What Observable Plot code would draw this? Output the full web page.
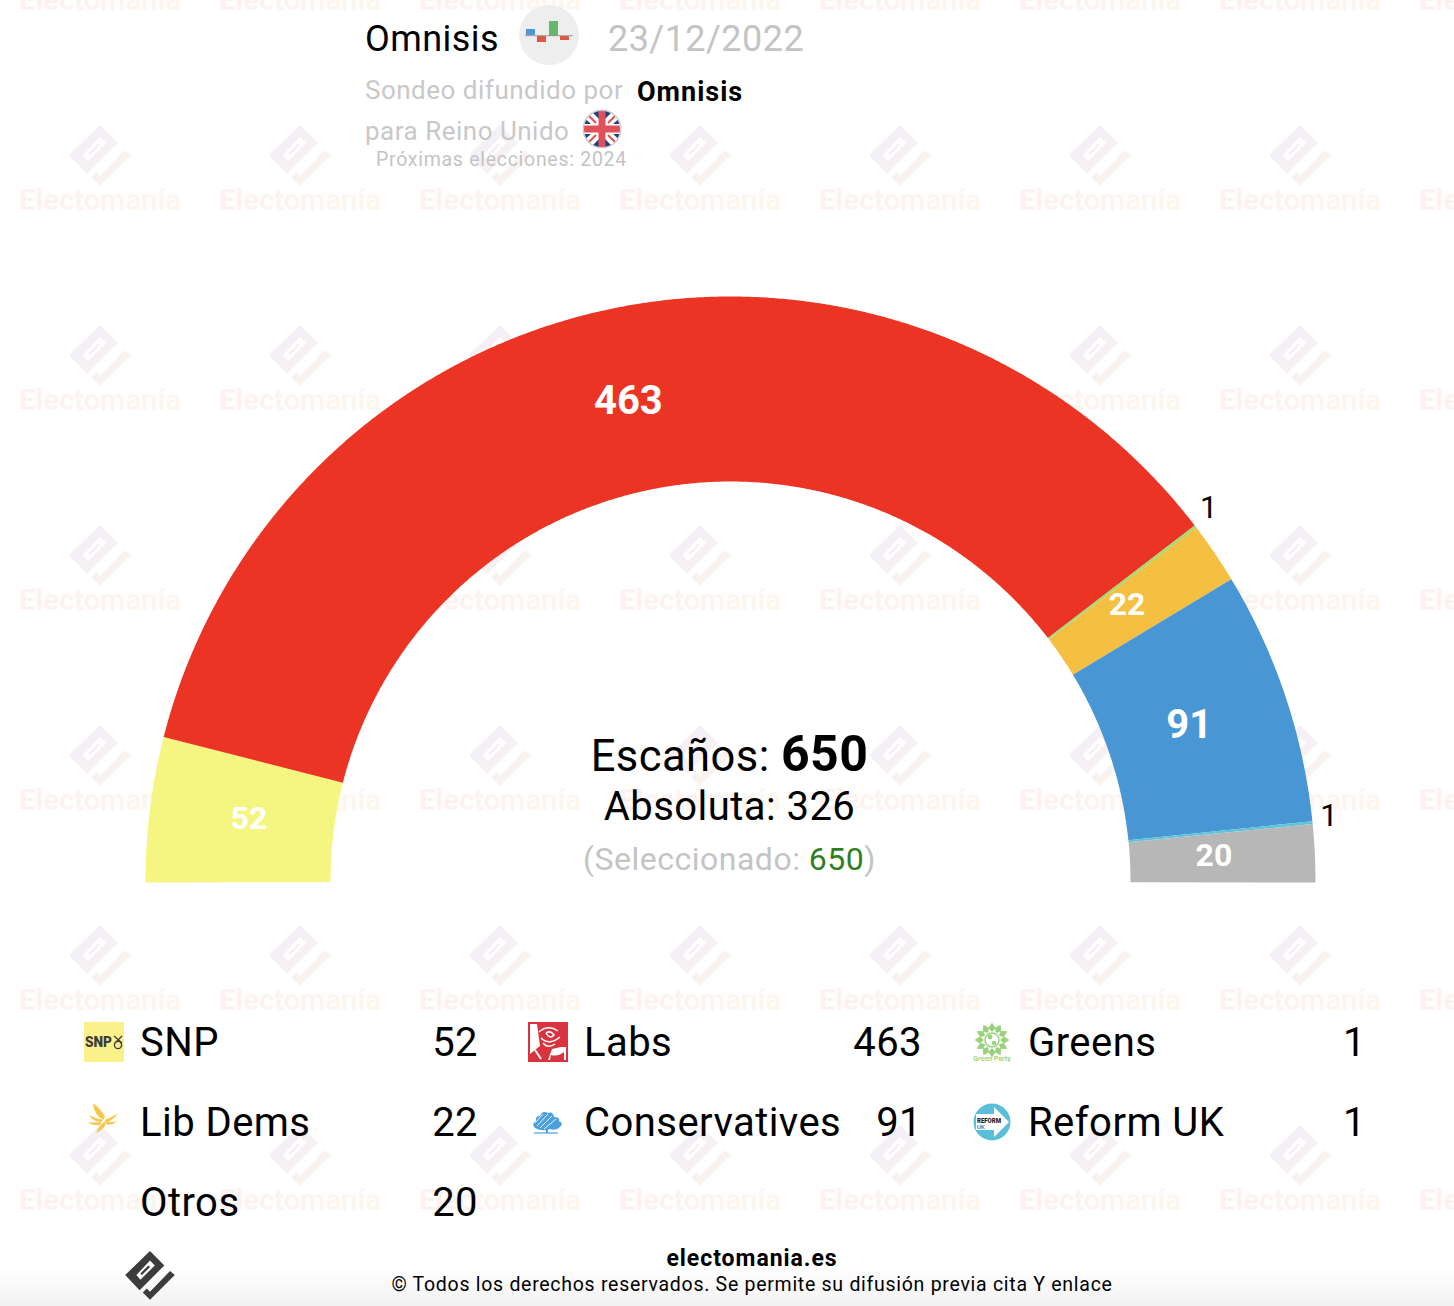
<!DOCTYPE html>
<html lang="es">
<head>
<meta charset="utf-8">
<title>Omnisis 23/12/2022</title>
<script src="https://cdn.jsdelivr.net/npm/d3@7"></script>
<script src="https://cdn.jsdelivr.net/npm/@observablehq/plot@0.6"></script>
<style>
html,body{margin:0;padding:0;background:#fff}
body{position:relative;width:1454px;height:1306px;overflow:hidden;font-family:Roboto,sans-serif;color:#000}
.abs{position:absolute;white-space:nowrap;line-height:1}
#wm,#foot,#chart,#icons{position:absolute;left:0}
#wm{top:0}
#icons{top:0;width:1454px;height:1306px}
#chart{top:270px}
#chart svg{display:block;background:transparent;overflow:visible}
#foot{top:1266px;width:1454px;height:40px;background:linear-gradient(#ffffff00,#f2f2f2)}
.c{left:0;width:1459px;text-align:center}
.ls{letter-spacing:.45px}
</style>
</head>
<body>
<div id="foot"></div>
<div id="wm"></div>
<div id="chart"></div>
<div id="icons"></div>
<script>
// ---- data ----
const parties = ["SNP", "Labs", "Greens", "Lib Dems", "Conservatives", "Reform UK", "Otros"];
const seats   = [52, 463, 1, 22, 91, 1, 20];
const colors  = ["#f5f681", "#ec3424", "#9fdc6f", "#f5bf41", "#4896d3", "#5cc4dc", "#b7b7b7"];
const totalSeats = 650;
const majority = 326;
const selected = 650;
const legendOrder = ["SNP", "Labs", "Greens", "Lib Dems", "Conservatives", "Reform UK", "Otros"];

// ---- label styling (not data) ----
const labelSize  = [32, 40, 31, 32, 40, 31, 32];
const labelColor = ["#fff", "#fff", "#000", "#fff", "#fff", "#000", "#fff"];
const labelRadius = [492.5, 492.5, 605, 492.5, 492.5, 602, 492.5];
const labelNudge = [[7, -1], [-4, 2], [-3.5, -7], [-11.5, -1], [-8.5, -1], [-0.5, -6], [-8.5, -2]];

// ---- geometry scale: one unit of x/y is one pixel from the arc centre ----
const W = 1454, H = 640, cx = 730, baseline = 611, rOuter = 585, rInner = 400;
const tilt = 0.00175; // the reference's half-circle sits very slightly rotated

const cum = d3.cumsum(seats);
const pts = [];
parties.forEach((p, i) => {
  const a0 = ((cum[i] - seats[i]) / totalSeats) * Math.PI - tilt;
  const a1 = (cum[i] / totalSeats) * Math.PI - tilt + (i === parties.length - 1 ? 2 * tilt : 0);
  const n = Math.max(2, Math.ceil((a1 - a0) / 0.004));
  const at = (a, r) => ({party: p, x: -r * Math.cos(a), y: r * Math.sin(a)});
  for (let k = 0; k <= n; ++k) pts.push(at(a0 + (a1 - a0) * k / n, rOuter));
  for (let k = n; k >= 0; --k) pts.push(at(a0 + (a1 - a0) * k / n, rInner));
});
const labels = parties.map((p, i) => {
  const a = ((cum[i] - seats[i] / 2) / totalSeats) * Math.PI;
  return {
    party: p, seats: seats[i],
    x: -labelRadius[i] * Math.cos(a) + labelNudge[i][0],
    y: labelRadius[i] * Math.sin(a) - labelNudge[i][1],
    size: labelSize[i], color: labelColor[i],
    weight: labelColor[i] === "#000" ? 400 : 700
  };
});

const textMark = (w) => Plot.text(labels.filter(d => d.weight === w), {
  x: "x", y: "y", text: d => String(d.seats),
  fontSize: "size", fill: d => d.color, fontWeight: w,
  fontFamily: "Roboto", textAnchor: "middle", lineAnchor: "middle"
});

const chart = Plot.plot({
  width: W, height: H, margin: 0,
  style: {background: "transparent", fontFamily: "Roboto"},
  x: {domain: [-cx, W - cx], range: [0, W], axis: null},
  y: {domain: [baseline - H, baseline], range: [H, 0], axis: null},
  color: {domain: parties, range: colors},
  marks: [
    Plot.line(pts, {x: "x", y: "y", z: "party", fill: "party", stroke: null, curve: "linear-closed"}),
    textMark(700), textMark(400)
  ]
});
document.getElementById("chart").append(chart);

// ---- watermark and logo shape ----
const logoPath = "M0,-30L18,-12L-13,19L-31,0Z M0,-18L-17,0L-12,6L6,-12Z M-2,-12L-12,-2L-10,0L0,-10Z M25,-5L31,0L0,31L-9,22L-4,17L0,21Z";
let wm = `<svg width="1454" height="1306" xmlns="http://www.w3.org/2000/svg">
<defs>
<linearGradient id="gl" x1="0" y1="0" x2="1" y2="1"><stop offset="0.2" stop-color="#f3eff9"/><stop offset="0.85" stop-color="#fbf3ed"/></linearGradient>
<linearGradient id="gt" x1="0" y1="0" x2="1" y2="0"><stop offset="0" stop-color="#fdf1f1"/><stop offset="1" stop-color="#fdf7ee"/></linearGradient>
</defs>`;
for (let ty = 0; ty <= 1200; ty += 200) for (let tx = 100; tx <= 1500; tx += 200) {
  wm += `<path transform="translate(${tx},${ty - 45})" d="${logoPath}" fill="url(#gl)" fill-rule="evenodd"/>`;
  wm += `<text x="${tx}" y="${ty + 10}" text-anchor="middle" font-family="Roboto" font-weight="700" font-size="29.2" fill="url(#gt)">Electomanía</text>`;
}
wm += `</svg>`;
document.getElementById("wm").innerHTML = wm;

// ---- small icons ----
function leaves(cx, cy) {
  let s = "";
  for (let i = 0; i < 12; i++) s += `<path transform="translate(${cx},${cy}) rotate(${i * 30})" d="M0,-17.5L3.5,-12L0,-8L-3.5,-12Z" fill="#9ad27c"/>`;
  return s;
}
const iconSvg = {
  "SNP": `<rect width="40" height="40" fill="#fbf18b"/><text x="1" y="25" font-family="Roboto" font-weight="900" font-size="15" fill="#3c3c3c" textLength="27" lengthAdjust="spacingAndGlyphs">SNP</text><circle cx="34" cy="23" r="3.6" fill="none" stroke="#3c3c3c" stroke-width="1.4"/><path d="M30,14L38,21M38,14L31,21" stroke="#3c3c3c" stroke-width="1.3"/>`,
  "Labs": `<rect width="40" height="40" fill="#d8333f"/><rect x="2" y="2" width="36" height="36" fill="#fff"/><path d="M9,2H38V25H33L24,27L20,38H2V32L12,24Z" fill="#d8333f"/><circle cx="23" cy="14" r="11" fill="#d8333f"/><path d="M11,10Q20,2 30,9M13,16Q21,24 32,15M18,11Q23,8 26,13Q22,18 18,11M15,21Q20,27 27,22M8,5Q5,9 8,13" fill="none" stroke="#fff" stroke-width="1.5"/><path d="M7,28L13,37" fill="none" stroke="#fff" stroke-width="2"/><path d="M23,33Q30,35 36,30L36,38H22Z" fill="#d8333f"/>`,
  "Greens": `${leaves(20, 18)}<circle cx="20" cy="18" r="7" fill="#fff" stroke="#9ad27c" stroke-width="1.5"/><circle cx="18" cy="15" r="2.4" fill="#9ad27c"/><circle cx="22" cy="21" r="2.2" fill="#9ad27c"/><text x="20" y="38.5" text-anchor="middle" font-family="Roboto" font-weight="700" font-size="7" fill="#a3d688">Green Party</text>`,
  "Lib Dems": `<g fill="#f8c64a"><path d="M9,1Q18,8 21,15L19,18Q10,13 9,1Z"/><path d="M5,13Q12,17 19,18L17,20Q9,20 5,13Z"/><path d="M4,20Q12,21 18,20L16,23Q9,24 4,20Z"/><path d="M34,11Q29,19 20,21L22,17Q27,16 34,11Z"/><path d="M20,20Q14,25 12,31Q19,28 22,22Z"/><path d="M23,19Q27,21 33,19Q28,24 22,22Z"/></g>`,
  "Conservatives": `<path d="M7,26Q3,22 8,19Q7,14 12,14Q14,8 20,11Q25,9 26,15Q32,15 31,19Q36,21 32,25Q28,29 22,27Q14,30 7,26Z" fill="#4a9fe0"/><path d="M9,24L20,12M12,26L24,14M16,27L28,17M7,21L15,12" stroke="#fff" stroke-width=".9"/><path d="M6,31H30" stroke="#4a9fe0" stroke-width="1.2"/><path d="M19,26V31" stroke="#4a9fe0" stroke-width="2"/>`,
  "Reform UK": `<circle cx="20" cy="20" r="18.5" fill="#59bfd8"/><path d="M4,12H22V5L37,20L22,35V28H4Z" fill="#fff"/><text x="5" y="20.5" font-family="Roboto" font-weight="900" font-size="7" fill="#222" textLength="24" lengthAdjust="spacingAndGlyphs">REFORM</text><text x="5" y="26.5" font-family="Roboto" font-size="6" fill="#222">UK</text>`,
  "Otros": ""
};
const flag = `<svg class="abs" style="left:582px;top:109px" width="40" height="40" viewBox="0 0 40 40"><defs><clipPath id="fc"><circle cx="20" cy="20" r="18"/></clipPath></defs><circle cx="20" cy="20" r="19.5" fill="#ccc"/><g clip-path="url(#fc)"><rect width="40" height="40" fill="#fff"/><path d="M7,0L17,10V0ZM33,0L23,10V0ZM0,7L9,15H0ZM40,7V15H31ZM7,40L17,30V40ZM33,40L23,30V40ZM0,33V25H9ZM40,33V25H31Z" fill="#22407f"/><path d="M3,3L14,14M37,3L26,14M3,37L14,26M37,37L26,26" stroke="#e05058" stroke-width="2"/><rect x="16.5" width="7" height="40" fill="#e05058"/><rect y="16.5" width="40" height="7" fill="#e05058"/></g></svg>`;
const pollIcon = `<svg class="abs" style="left:519px;top:5px" width="60" height="60" viewBox="0 0 60 60"><circle cx="30" cy="30" r="30" fill="#efeeef"/><rect x="7" y="24" width="9" height="6" fill="#4d97d6"/><rect x="18" y="31" width="9" height="6" fill="#e2563f"/><rect x="30" y="16" width="9" height="15" fill="#66b66c"/><rect x="41" y="31" width="9" height="4" fill="#e2563f"/><path d="M6,30.7H54" stroke="#9a9a9a" stroke-width="1"/></svg>`;

// ---- header, centre text, legend, footer as real text ----
const rows = [1042, 1122, 1202];
const colText = [140, 584, 1028], colIcon = [84, 528, 972], colRight = [478, 922, 1366];
const seatOf = Object.fromEntries(parties.map((p, i) => [p, seats[i]]));
// legend fills row by row: SNP Labs Greens / Lib Dems Conservatives Reform UK / Otros
let legend = "";
legendOrder.forEach((p, i) => {
  const c = i % 3, r = Math.floor(i / 3), y = rows[r];
  if (iconSvg[p]) legend += `<svg class="abs" style="left:${colIcon[c]}px;top:${y - 20}px" width="40" height="40" viewBox="0 0 40 40">${iconSvg[p]}</svg>`;
  legend += `<div class="abs ls" style="left:${colText[c]}px;top:${y - 19}px;font-size:40px">${p}</div>`;
  legend += `<div class="abs ls" style="right:${1454 - colRight[c]}px;top:${y - 19}px;font-size:40px">${seatOf[p]}</div>`;
});

const header = `
<div class="abs ls" style="left:365px;top:21px;font-size:36px">Omnisis</div>
${pollIcon}
<div class="abs ls" style="left:608px;top:21px;font-size:36px;color:#c4c4c4">23/12/2022</div>
<div class="abs" style="left:365px;top:77px;font-size:26px;color:#c8c8c8;letter-spacing:.5px">Sondeo difundido por</div>
<div class="abs" style="left:637px;top:79px;font-size:27px;font-weight:700;letter-spacing:1px">Omnisis</div>
<div class="abs" style="left:365px;top:118px;font-size:26px;color:#c8c8c8;letter-spacing:.5px">para Reino Unido</div>
${flag}
<div class="abs" style="left:376px;top:150px;font-size:19.5px;color:#c4c4c4;letter-spacing:.72px">Próximas elecciones: 2024</div>
<div class="abs c ls" style="top:729px;font-size:43.5px">Escaños: <b style="font-size:50px;font-weight:700">${totalSeats}</b></div>
<div class="abs c" style="top:787px;font-size:40px;letter-spacing:.45px">Absoluta: ${majority}</div>
<div class="abs c" style="top:843px;font-size:32px;color:#c4c4c4;letter-spacing:.5px">(Seleccionado: <span style="color:#2f7f1f">${selected}</span>)</div>
<div class="abs" style="left:0;width:1504px;text-align:center;top:1247px;font-size:23px;font-weight:700;letter-spacing:.95px">electomania.es</div>
<div class="abs" style="left:0;width:1504px;text-align:center;top:1275px;font-size:19.5px;letter-spacing:.72px">© Todos los derechos reservados. Se permite su difusión previa cita Y enlace</div>
<svg class="abs" style="left:100px;top:1225px" width="100" height="100"><path transform="translate(50,50) scale(.8)" d="${logoPath}" fill="#3c3c3c" fill-rule="evenodd"/></svg>`;
document.getElementById("icons").innerHTML = header + legend;
</script>
</body>
</html>
